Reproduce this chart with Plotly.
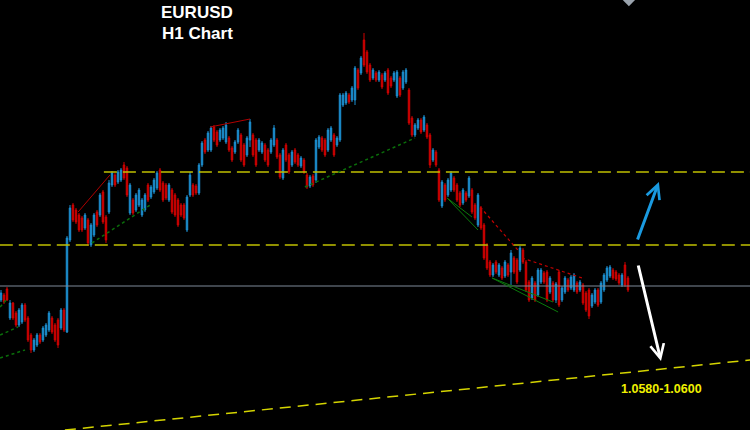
import plotly.graph_objects as go

# EURUSD H1 candles (oldest -> newest)
open_ = [
    1.0659, 1.0664, 1.0670, 1.0641, 1.0656, 1.0646, 1.0634, 1.0637, 1.0654, 1.0641, 1.0624, 1.0609, 1.0614, 1.0624, 1.0619,
    1.0624, 1.0629, 1.0641, 1.0634, 1.0639, 1.0631, 1.0649, 1.0627, 1.0719, 1.0754, 1.0749, 1.0744, 1.0741, 1.0731, 1.0739,
    1.0714, 1.0724, 1.0747, 1.0744, 1.0767, 1.0742, 1.0747, 1.0774, 1.0784, 1.0777, 1.0779, 1.0794, 1.0791, 1.0746, 1.0759,
    1.0749, 1.0754, 1.0744, 1.0749, 1.0774, 1.0762, 1.0767, 1.0771, 1.0789, 1.0776, 1.0774, 1.0759, 1.0769, 1.0764, 1.0759,
    1.0754, 1.0754, 1.0729, 1.0764, 1.0774, 1.0773, 1.0766, 1.0794, 1.0819, 1.0809, 1.0809, 1.0832, 1.0827, 1.0819, 1.0821,
    1.0817, 1.0821, 1.0811, 1.0807, 1.0817, 1.0824, 1.0814, 1.0804, 1.0819, 1.0824, 1.0819, 1.0809, 1.0807, 1.0814, 1.0809,
    1.0807, 1.0814, 1.0819, 1.0804, 1.0781, 1.0814, 1.0804, 1.0794, 1.0809, 1.0804, 1.0793, 1.0799, 1.0784, 1.0773, 1.0783,
    1.0779, 1.0812, 1.0821, 1.0819, 1.0809, 1.0819, 1.0824, 1.0814, 1.0819, 1.0854, 1.0856, 1.0864, 1.0859, 1.0859, 1.0889,
    1.0886, 1.0919, 1.0907, 1.0894, 1.0881, 1.0886, 1.0879, 1.0884, 1.0879, 1.0889, 1.0881, 1.0879, 1.0863, 1.0881, 1.0871,
    1.0877, 1.0869, 1.0841, 1.0824, 1.0831, 1.0839, 1.0829, 1.0834, 1.0824, 1.0799, 1.0807, 1.0789, 1.0753, 1.0774, 1.0764,
    1.0769, 1.0781, 1.0774, 1.0766, 1.0756, 1.0766, 1.0763, 1.0769, 1.0754, 1.0734, 1.0751, 1.0734, 1.0714, 1.0697, 1.0684,
    1.0697, 1.0684, 1.0691, 1.0683, 1.0694, 1.0687, 1.0701, 1.0699, 1.0689, 1.0709, 1.0697, 1.0677, 1.0661, 1.0676, 1.0664,
    1.0677, 1.0686, 1.0687, 1.0667, 1.0676, 1.0659, 1.0687, 1.0659, 1.0667, 1.0679, 1.0671, 1.0669, 1.0676, 1.0669, 1.0674,
    1.0666, 1.0669, 1.0653, 1.0657, 1.0669, 1.0657, 1.0669, 1.0679, 1.0683, 1.0689, 1.0687, 1.0684, 1.0674, 1.0694, 1.0681,
]
high = [
    1.0669, 1.0666, 1.0672, 1.0659, 1.0657, 1.0648, 1.0651, 1.0656, 1.0656, 1.0643, 1.0626, 1.0621, 1.0626, 1.0626, 1.0633,
    1.0636, 1.0648, 1.0643, 1.0636, 1.0641, 1.0651, 1.0651, 1.0723, 1.0754, 1.0756, 1.0751, 1.0746, 1.0743, 1.0746, 1.0741,
    1.0736, 1.0746, 1.0749, 1.0766, 1.0769, 1.0744, 1.0779, 1.0788, 1.0786, 1.0789, 1.0791, 1.0797, 1.0793, 1.0776, 1.0761,
    1.0766, 1.0771, 1.0761, 1.0766, 1.0776, 1.0774, 1.0781, 1.0788, 1.0791, 1.0778, 1.0776, 1.0776, 1.0771, 1.0766, 1.0761,
    1.0756, 1.0756, 1.0764, 1.0787, 1.0776, 1.0775, 1.0796, 1.0818, 1.0821, 1.0828, 1.0833, 1.0834, 1.0829, 1.0831, 1.0833,
    1.0837, 1.0823, 1.0813, 1.0819, 1.0831, 1.0826, 1.0816, 1.0823, 1.0840, 1.0826, 1.0821, 1.0821, 1.0818, 1.0816, 1.0811,
    1.0821, 1.0834, 1.0821, 1.0806, 1.0811, 1.0816, 1.0806, 1.0809, 1.0811, 1.0806, 1.0803, 1.0801, 1.0786, 1.0784, 1.0785,
    1.0821, 1.0824, 1.0823, 1.0821, 1.0831, 1.0833, 1.0826, 1.0823, 1.0866, 1.0866, 1.0868, 1.0866, 1.0873, 1.0893, 1.0891,
    1.0903, 1.0926, 1.0909, 1.0896, 1.0891, 1.0888, 1.0889, 1.0886, 1.0888, 1.0891, 1.0883, 1.0888, 1.0889, 1.0883, 1.0889,
    1.0891, 1.0871, 1.0843, 1.0836, 1.0841, 1.0841, 1.0844, 1.0836, 1.0826, 1.0811, 1.0809, 1.0791, 1.0779, 1.0776, 1.0781,
    1.0788, 1.0783, 1.0776, 1.0768, 1.0771, 1.0768, 1.0783, 1.0771, 1.0756, 1.0766, 1.0753, 1.0736, 1.0716, 1.0699, 1.0696,
    1.0699, 1.0696, 1.0693, 1.0699, 1.0696, 1.0709, 1.0703, 1.0701, 1.0713, 1.0711, 1.0699, 1.0679, 1.0683, 1.0678, 1.0691,
    1.0691, 1.0688, 1.0689, 1.0683, 1.0678, 1.0677, 1.0689, 1.0673, 1.0683, 1.0681, 1.0684, 1.0686, 1.0678, 1.0679, 1.0676,
    1.0668, 1.0671, 1.0666, 1.0671, 1.0671, 1.0678, 1.0686, 1.0693, 1.0694, 1.0691, 1.0689, 1.0686, 1.0686, 1.0697, 1.0683,
]
low = [
    1.0657, 1.0655, 1.0658, 1.0639, 1.0639, 1.0632, 1.0632, 1.0635, 1.0637, 1.0617, 1.0606, 1.0607, 1.0612, 1.0615, 1.0617,
    1.0622, 1.0627, 1.0625, 1.0617, 1.0611, 1.0629, 1.0627, 1.0626, 1.0717, 1.0737, 1.0735, 1.0727, 1.0727, 1.0729, 1.0713,
    1.0712, 1.0722, 1.0732, 1.0742, 1.0735, 1.0716, 1.0745, 1.0772, 1.0772, 1.0775, 1.0777, 1.0779, 1.0762, 1.0744, 1.0744,
    1.0747, 1.0752, 1.0742, 1.0747, 1.0757, 1.0760, 1.0765, 1.0769, 1.0767, 1.0757, 1.0759, 1.0757, 1.0745, 1.0742, 1.0732,
    1.0742, 1.0739, 1.0727, 1.0762, 1.0762, 1.0764, 1.0764, 1.0792, 1.0805, 1.0807, 1.0807, 1.0817, 1.0812, 1.0817, 1.0819,
    1.0815, 1.0807, 1.0797, 1.0805, 1.0815, 1.0797, 1.0792, 1.0802, 1.0812, 1.0802, 1.0792, 1.0807, 1.0805, 1.0797, 1.0792,
    1.0805, 1.0812, 1.0800, 1.0780, 1.0779, 1.0797, 1.0785, 1.0792, 1.0795, 1.0792, 1.0791, 1.0785, 1.0770, 1.0771, 1.0772,
    1.0776, 1.0810, 1.0807, 1.0802, 1.0807, 1.0817, 1.0802, 1.0812, 1.0817, 1.0852, 1.0854, 1.0855, 1.0857, 1.0854, 1.0869,
    1.0884, 1.0892, 1.0885, 1.0877, 1.0879, 1.0877, 1.0877, 1.0870, 1.0877, 1.0864, 1.0871, 1.0877, 1.0861, 1.0862, 1.0869,
    1.0875, 1.0834, 1.0822, 1.0822, 1.0829, 1.0825, 1.0827, 1.0820, 1.0791, 1.0797, 1.0792, 1.0757, 1.0751, 1.0757, 1.0762,
    1.0767, 1.0767, 1.0757, 1.0752, 1.0754, 1.0757, 1.0761, 1.0745, 1.0739, 1.0732, 1.0729, 1.0699, 1.0689, 1.0682, 1.0682,
    1.0685, 1.0682, 1.0679, 1.0681, 1.0682, 1.0674, 1.0685, 1.0675, 1.0687, 1.0695, 1.0667, 1.0657, 1.0659, 1.0657, 1.0662,
    1.0675, 1.0675, 1.0657, 1.0665, 1.0657, 1.0656, 1.0652, 1.0657, 1.0665, 1.0667, 1.0669, 1.0667, 1.0665, 1.0667, 1.0654,
    1.0647, 1.0640, 1.0651, 1.0655, 1.0652, 1.0655, 1.0667, 1.0677, 1.0681, 1.0679, 1.0678, 1.0674, 1.0672, 1.0672, 1.0667,
]
close = [
    1.0666, 1.0657, 1.0659, 1.0656, 1.0641, 1.0634, 1.0649, 1.0654, 1.0639, 1.0619, 1.0609, 1.0619, 1.0624, 1.0617, 1.0631,
    1.0634, 1.0646, 1.0627, 1.0619, 1.0614, 1.0649, 1.0629, 1.0721, 1.0751, 1.0739, 1.0737, 1.0729, 1.0729, 1.0744, 1.0716,
    1.0734, 1.0744, 1.0734, 1.0764, 1.0737, 1.0719, 1.0776, 1.0786, 1.0774, 1.0787, 1.0789, 1.0781, 1.0764, 1.0774, 1.0746,
    1.0764, 1.0769, 1.0759, 1.0764, 1.0759, 1.0772, 1.0779, 1.0786, 1.0769, 1.0759, 1.0761, 1.0774, 1.0747, 1.0744, 1.0734,
    1.0744, 1.0741, 1.0762, 1.0784, 1.0764, 1.0766, 1.0794, 1.0816, 1.0807, 1.0826, 1.0831, 1.0819, 1.0814, 1.0829, 1.0831,
    1.0834, 1.0809, 1.0799, 1.0817, 1.0829, 1.0799, 1.0794, 1.0821, 1.0837, 1.0804, 1.0794, 1.0819, 1.0816, 1.0799, 1.0794,
    1.0819, 1.0831, 1.0802, 1.0782, 1.0809, 1.0799, 1.0787, 1.0807, 1.0797, 1.0794, 1.0801, 1.0787, 1.0772, 1.0782, 1.0774,
    1.0819, 1.0822, 1.0809, 1.0804, 1.0829, 1.0831, 1.0804, 1.0821, 1.0864, 1.0864, 1.0866, 1.0857, 1.0871, 1.0891, 1.0871,
    1.0901, 1.0894, 1.0887, 1.0879, 1.0889, 1.0879, 1.0887, 1.0872, 1.0886, 1.0866, 1.0873, 1.0886, 1.0887, 1.0864, 1.0887,
    1.0889, 1.0836, 1.0824, 1.0834, 1.0839, 1.0827, 1.0842, 1.0822, 1.0794, 1.0809, 1.0794, 1.0759, 1.0777, 1.0759, 1.0779,
    1.0786, 1.0769, 1.0759, 1.0754, 1.0769, 1.0759, 1.0781, 1.0747, 1.0741, 1.0764, 1.0731, 1.0701, 1.0691, 1.0684, 1.0694,
    1.0687, 1.0694, 1.0681, 1.0697, 1.0684, 1.0706, 1.0687, 1.0677, 1.0711, 1.0697, 1.0669, 1.0659, 1.0681, 1.0659, 1.0689,
    1.0689, 1.0677, 1.0659, 1.0681, 1.0659, 1.0675, 1.0654, 1.0671, 1.0681, 1.0669, 1.0682, 1.0684, 1.0667, 1.0677, 1.0656,
    1.0649, 1.0643, 1.0664, 1.0669, 1.0654, 1.0676, 1.0684, 1.0691, 1.0692, 1.0681, 1.0680, 1.0676, 1.0684, 1.0674, 1.0669,
]
bars = list(range(len(close)))

# drawn levels
resistance = 1.0787
support = 1.0714
last_price = 1.0673
target_line = [(21.3, 1.0529), (249.7, 1.0599)]
target_label = "1.0580-1.0600"

# analyst trendlines: (bar0, price0, bar1, price1)
red_lines = [(25.7, 1.0747, 36.3, 1.0784), (69.7, 1.0832, 83.0, 1.0840)]
red_dotted = [(159.7, 1.0752, 172.3, 1.0709), (173.7, 1.0701, 193.7, 1.0681)]
green_dotted = [(30.3, 1.0716, 49.7, 1.0754), (101.3, 1.0772, 138.0, 1.0821),
                (-0.3, 1.0624, 5.7, 1.0632), (-0.3, 1.0601, 8.0, 1.0609), (-0.3, 1.0652, 1.7, 1.0659)]
green_lines = [(148.7, 1.0761, 157.0, 1.0742), (148.7, 1.0761, 159.0, 1.0729),
               (163.7, 1.0681, 184.0, 1.0657), (163.7, 1.0681, 185.7, 1.0647)]

BLUE = '#1c8fd0'
RED = '#d00000'
YELLOW = '#c0c000'

fig = go.Figure()
fig.add_trace(go.Candlestick(
    x=bars, open=open_, high=high, low=low, close=close,
    increasing=dict(line=dict(color=BLUE, width=1), fillcolor=BLUE),
    decreasing=dict(line=dict(color=RED, width=1), fillcolor=RED),
    whiskerwidth=0, hoverinfo='skip', showlegend=False
))

# small grey marker peeking from the top edge
fig.add_trace(go.Scatter(x=[209.3], y=[1.0960], mode='markers', hoverinfo='skip', showlegend=False,
                         marker=dict(symbol='diamond', size=11, color='#9aa3ad')))

shapes = []
shapes.append(dict(type='line', x0=34.3, x1=249.7, y0=resistance, y1=resistance,
                   line=dict(color=YELLOW, width=1.5, dash='13px,6px')))
shapes.append(dict(type='line', x0=-0.4, x1=249.7, y0=support, y1=support,
                   line=dict(color=YELLOW, width=1.5, dash='13px,6px')))
shapes.append(dict(type='line', x0=-0.4, x1=249.7, y0=last_price, y1=last_price,
                   line=dict(color='#7f8a99', width=1)))
shapes.append(dict(type='line', x0=target_line[0][0], y0=target_line[0][1],
                   x1=target_line[1][0], y1=target_line[1][1],
                   line=dict(color='#d4d400', width=1.5, dash='11px,7px')))
for x0, y0, x1, y1 in red_lines:
    shapes.append(dict(type='line', x0=x0, y0=y0, x1=x1, y1=y1, line=dict(color='#b00000', width=1)))
for x0, y0, x1, y1 in red_dotted:
    shapes.append(dict(type='line', x0=x0, y0=y0, x1=x1, y1=y1, line=dict(color='#c00000', width=1.2, dash='dot')))
for x0, y0, x1, y1 in green_dotted:
    shapes.append(dict(type='line', x0=x0, y0=y0, x1=x1, y1=y1, line=dict(color='#0a6e0a', width=1.5, dash='dot')))
for x0, y0, x1, y1 in green_lines:
    shapes.append(dict(type='line', x0=x0, y0=y0, x1=x1, y1=y1, line=dict(color='#0b7a0b', width=1)))

annotations = [
    dict(x=219.3, y=1.0777, ax=212.0, ay=1.0718, xref='x', yref='y', axref='x', ayref='y',
         showarrow=True, arrowhead=5, arrowsize=0.9, arrowwidth=3, arrowcolor='#1a9ae0', text=''),
    dict(x=220.0, y=1.0598, ax=212.3, ay=1.0695, xref='x', yref='y', axref='x', ayref='y',
         showarrow=True, arrowhead=5, arrowsize=0.9, arrowwidth=3, arrowcolor='#ffffff', text=''),
    dict(x=220.3, y=1.0570, xref='x', yref='y', showarrow=False, xanchor='center', text='<b>' + target_label + '</b>',
         font=dict(family='Arial', size=12.5, color='#f0f000')),
    dict(x=197 / 750, y=1 - 13 / 430, xref='paper', yref='paper', showarrow=False, xanchor='center', yanchor='middle',
         text='<b>EURUSD</b>', font=dict(family='Arial', size=17, color='white')),
    dict(x=197 / 750, y=1 - 34 / 430, xref='paper', yref='paper', showarrow=False, xanchor='center', yanchor='middle',
         text='<b>H1 Chart</b>', font=dict(family='Arial', size=17, color='white')),
]

fig.update_layout(
    width=750, height=430,
    margin=dict(l=0, r=0, t=0, b=0),
    paper_bgcolor='black', plot_bgcolor='black',
    shapes=shapes, annotations=annotations,
    showlegend=False, hovermode=False,
    xaxis=dict(range=[-0.333, 249.667], visible=False, rangeslider=dict(visible=False), fixedrange=True),
    yaxis=dict(range=[1.0529, 1.0959], visible=False, fixedrange=True),
)

fig.write_html("out.html", config={'displayModeBar': False},
               post_script="document.body.style.margin='0';document.body.style.background='black';"
                           "document.body.style.overflow='hidden';")
